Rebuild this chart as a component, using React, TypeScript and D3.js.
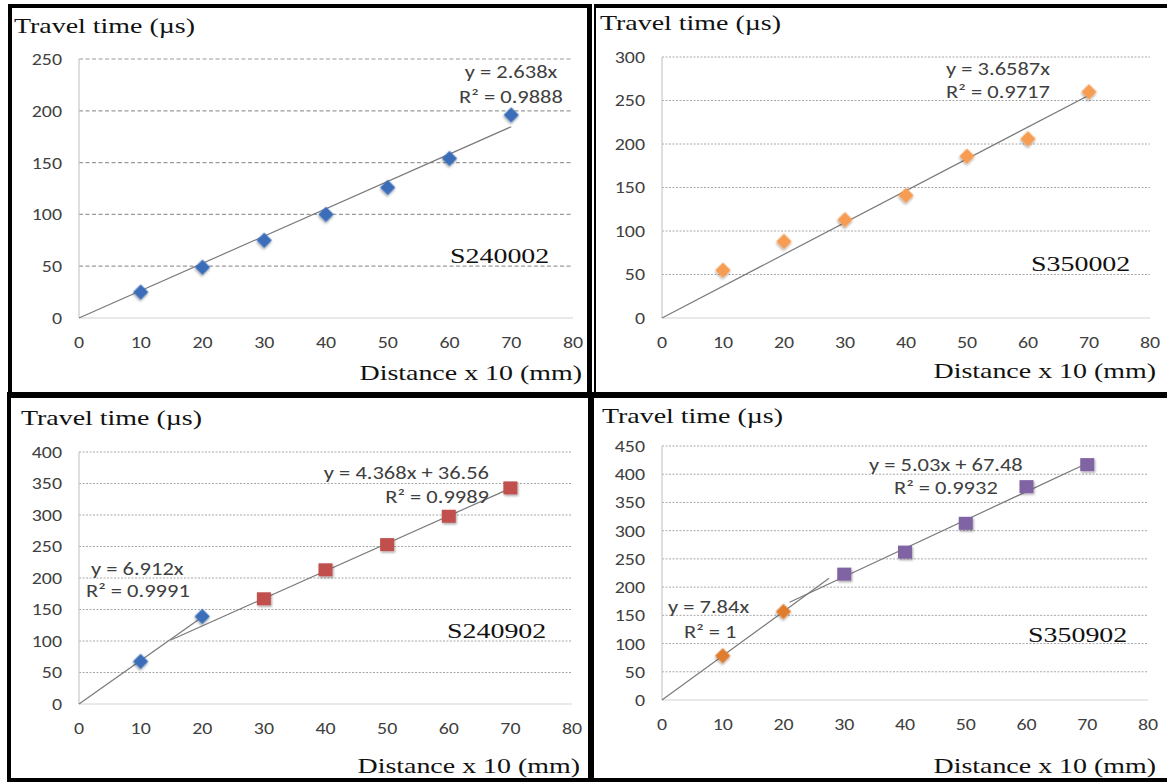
import React from "react";
import * as d3 from "d3";

// Distances along the specimen (x 10 mm)
const distances = [10, 20, 30, 40, 50, 60, 70];
const xTicks = [0, 10, 20, 30, 40, 50, 60, 70, 80];

// Measured travel times (µs)
const s240002 = [25, 49, 75, 100, 126, 154, 196];
const s350002 = [55, 88, 113, 141, 186, 206, 260];
const s240902Near = [67.6, 139]; // 10, 20
const s240902Far = [167, 213, 253, 298, 343]; // 30 .. 70
const s350902Near = [78.4, 156.8]; // 10, 20
const s350902Far = [223, 262, 313, 378, 417]; // 30 .. 70

const yTicksA = [0, 50, 100, 150, 200, 250];
const yTicksB = [0, 50, 100, 150, 200, 250, 300];
const yTicksC = [0, 50, 100, 150, 200, 250, 300, 350, 400];
const yTicksD = [0, 50, 100, 150, 200, 250, 300, 350, 400, 450];

const SANS = "Carlito, Lato, 'Open Sans', sans-serif";
const SERIF = "'Liberation Serif', 'Times New Roman', serif";
const SX = 1.27; // horizontal stretch of serif text
const TICK_SX = 1.17; // horizontal stretch of tick labels
const EQ_SX = 1.25; // horizontal stretch of equation labels

type Series = {
  xs: number[];
  ys: number[];
  shape: "diamond" | "square";
  color: string;
  fit: { m: number; b: number; from: number; to: number };
};

type Label = { text: string; x: number; y: number; anchor?: string };

type Panel = {
  x0: number;
  x1: number;
  yTop: number;
  yBottom: number;
  yMax: number;
  yTicks: number[];
  dashed: boolean;
  titleX: number;
  titleY: number;
  axisTitleX: number;
  axisTitleY: number;
  name: string;
  nameX: number;
  nameY: number;
  series: Series[];
  labels: Label[];
};

const panels: Panel[] = [
  {
    x0: 79, x1: 573, yTop: 59, yBottom: 318, yMax: 250, yTicks: yTicksA, dashed: true,
    titleX: 14, titleY: 33, axisTitleX: 582, axisTitleY: 380,
    name: "S240002", nameX: 450, nameY: 263,
    series: [
      { xs: distances, ys: s240002, shape: "diamond", color: "#3a6db8", fit: { m: 2.638, b: 0, from: 0, to: 70 } },
    ],
    labels: [
      { text: "y = 2.638x", x: 511, y: 78, anchor: "middle" },
      { text: "R² = 0.9888", x: 511, y: 103, anchor: "middle" },
    ],
  },
  {
    x0: 662, x1: 1150, yTop: 57, yBottom: 318, yMax: 300, yTicks: yTicksB, dashed: false,
    titleX: 600, titleY: 30, axisTitleX: 1156, axisTitleY: 378,
    name: "S350002", nameX: 1031, nameY: 271,
    series: [
      { xs: distances, ys: s350002, shape: "diamond", color: "#f79c52", fit: { m: 3.6587, b: 0, from: 0, to: 70 } },
    ],
    labels: [
      { text: "y = 3.6587x", x: 998, y: 75, anchor: "middle" },
      { text: "R² = 0.9717", x: 998, y: 98, anchor: "middle" },
    ],
  },
  {
    x0: 79, x1: 572, yTop: 452, yBottom: 704, yMax: 400, yTicks: yTicksC, dashed: false,
    titleX: 21, titleY: 425, axisTitleX: 580, axisTitleY: 773,
    name: "S240902", nameX: 447, nameY: 638,
    series: [
      { xs: [10, 20], ys: s240902Near, shape: "diamond", color: "#3a6db8", fit: { m: 6.912, b: 0, from: 0, to: 20 } },
      { xs: [30, 40, 50, 60, 70], ys: s240902Far, shape: "square", color: "#c0504d", fit: { m: 4.368, b: 36.56, from: 15, to: 70 } },
    ],
    labels: [
      { text: "y = 4.368x + 36.56", x: 489, y: 479, anchor: "end" },
      { text: "R² = 0.9989", x: 489, y: 503, anchor: "end" },
      { text: "y = 6.912x", x: 91, y: 575, anchor: "start" },
      { text: "R² = 0.9991", x: 86, y: 597, anchor: "start" },
    ],
  },
  {
    x0: 662, x1: 1148, yTop: 446, yBottom: 700, yMax: 450, yTicks: yTicksD, dashed: false,
    titleX: 602, titleY: 423, axisTitleX: 1156, axisTitleY: 773,
    name: "S350902", nameX: 1028, nameY: 642,
    series: [
      { xs: [10, 20], ys: s350902Near, shape: "diamond", color: "#e07c2e", fit: { m: 7.84, b: 0, from: 0, to: 27.5 } },
      { xs: [30, 40, 50, 60, 70], ys: s350902Far, shape: "square", color: "#8064a2", fit: { m: 5.03, b: 67.48, from: 21, to: 70 } },
    ],
    labels: [
      { text: "y = 5.03x + 67.48", x: 869, y: 471, anchor: "start" },
      { text: "R² = 0.9932", x: 894, y: 494, anchor: "start" },
      { text: "y = 7.84x", x: 668, y: 613, anchor: "start" },
      { text: "R² = 1", x: 684, y: 638, anchor: "start" },
    ],
  },
];

function Txt(props: {
  x: number; y: number; sx?: number; anchor?: string; size: number; family: string;
  fill?: string; baseline?: string; children: React.ReactNode;
}) {
  const { x, y, sx = 1, anchor = "start", size, family, fill = "#000", baseline, children } = props;
  return (
    <text
      transform={`translate(${x},${y}) scale(${sx},1)`}
      textAnchor={anchor as any}
      fontSize={size}
      fontFamily={family}
      fill={fill}
      dominantBaseline={baseline as any}
    >
      {children}
    </text>
  );
}

const diamondPath = d3.symbol().type(d3.symbolSquare).size(118)() as string;

function ChartPanel({ p }: { p: Panel }) {
  const x = d3.scaleLinear().domain([0, 80]).range([p.x0, p.x1]);
  const y = d3.scaleLinear().domain([0, p.yMax]).range([p.yBottom, p.yTop]);

  return (
    <g>
      {/* gridlines */}
      {p.yTicks.filter((t) => t > 0).map((t) => (
        <line
          key={t}
          x1={p.x0}
          x2={p.x1}
          y1={y(t)}
          y2={y(t)}
          stroke={p.dashed ? "#9a9a9a" : "#a8a8a8"}
          strokeWidth={p.dashed ? 1.2 : 1}
          strokeDasharray={p.dashed ? "4,2.5" : "2,1.5"}
        />
      ))}
      {/* axes */}
      <line x1={p.x0} x2={p.x0} y1={p.yBottom} y2={p.yTop} stroke="#c8c8c8" strokeWidth={1.2} />
      <line x1={p.x0} x2={p.x1} y1={p.yBottom} y2={p.yBottom} stroke="#d4d4d4" strokeWidth={1.2} />

      {/* tick labels */}
      {p.yTicks.map((t) => (
        <Txt key={t} x={p.x0 - 17} y={y(t)} sx={TICK_SX} anchor="end" size={17} family={SANS} fill="#404040" baseline="central">
          {t}
        </Txt>
      ))}
      {xTicks.map((t) => (
        <Txt key={t} x={x(t)} y={p.yBottom + 24} sx={TICK_SX} anchor="middle" size={17} family={SANS} fill="#404040" baseline="central">
          {t}
        </Txt>
      ))}

      {/* trendlines */}
      {p.series.map((s, i) => {
        const pts: [number, number][] = [
          [s.fit.from, s.fit.m * s.fit.from + s.fit.b],
          [s.fit.to, s.fit.m * s.fit.to + s.fit.b],
        ];
        const path = d3.line<[number, number]>().x((d) => x(d[0])).y((d) => y(d[1]))(pts);
        return <path key={"t" + i} d={path as string} stroke="#7a7a7a" strokeWidth={1.2} fill="none" />;
      })}

      {/* markers */}
      {p.series.map((s, i) =>
        s.xs.map((xv, j) =>
          s.shape === "diamond" ? (
            <path
              key={`m${i}-${j}`}
              d={diamondPath}
              transform={`translate(${x(xv)},${y(s.ys[j])}) rotate(45)`}
              fill={s.color}
              filter="url(#mshadow)"
            />
          ) : (
            <rect
              key={`m${i}-${j}`}
              x={x(xv) - 7}
              y={y(s.ys[j]) - 6.5}
              width={14}
              height={13}
              fill={s.color}
              filter="url(#mshadow)"
            />
          )
        )
      )}

      {/* equation labels */}
      {p.labels.map((l, i) => (
        <Txt key={"l" + i} x={l.x} y={l.y} sx={EQ_SX} anchor={l.anchor} size={18} family={SANS} fill="#404040">
          {l.text}
        </Txt>
      ))}

      {/* titles */}
      <Txt x={p.titleX} y={p.titleY} sx={SX} size={22} family={SERIF} fill="#111">
        Travel time (µs)
      </Txt>
      <Txt x={p.axisTitleX} y={p.axisTitleY} sx={SX} anchor="end" size={22} family={SERIF} fill="#111">
        Distance x 10 (mm)
      </Txt>
      <Txt x={p.nameX} y={p.nameY} sx={SX} size={22} family={SERIF} fill="#111">
        {p.name}
      </Txt>
    </g>
  );
}

export default function App() {
  return (
    <svg
      width={1167}
      height={782}
      viewBox="0 0 1167 782"
      style={{ position: "absolute", left: 0, top: 0, background: "#fff" }}
    >
      <defs>
        <filter id="mshadow" x="-50%" y="-50%" width="200%" height="200%">
          <feDropShadow dx="1" dy="1.5" stdDeviation="1.2" floodColor="#000" floodOpacity="0.35" />
        </filter>
      </defs>
      <rect x={0} y={0} width={1167} height={782} fill="#fff" />
      {panels.map((p, i) => (
        <ChartPanel key={i} p={p} />
      ))}
      {/* frames */}
      <g fill="#000">
        <rect x={8} y={4} width={584} height={4} />
        <rect x={594} y={4} width={573} height={4} />
        <rect x={8} y={4} width={4} height={392} />
        <rect x={587} y={4} width={5} height={392} />
        <rect x={594} y={4} width={2} height={392} />
        <rect x={8} y={392} width={1159} height={6} />
        <rect x={7} y={392} width={4} height={390} />
        <rect x={588} y={392} width={6} height={390} />
        <rect x={7} y={778} width={1160} height={4} />
      </g>
    </svg>
  );
}
